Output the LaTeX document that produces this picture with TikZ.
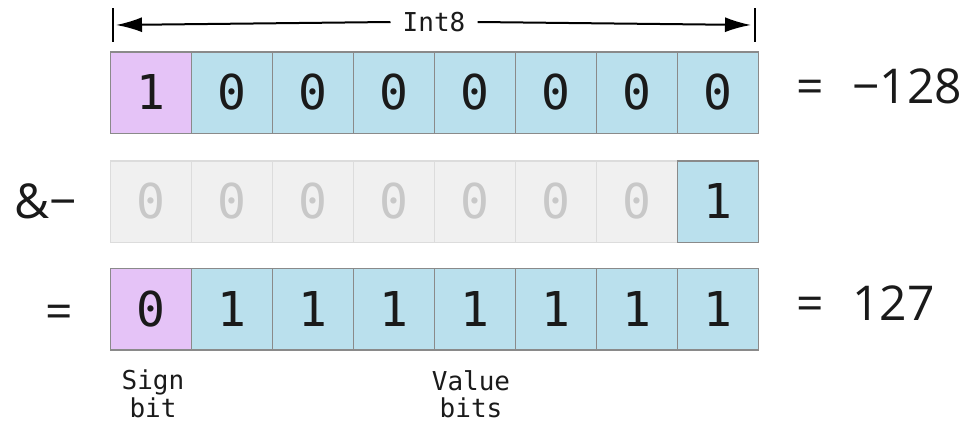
\documentclass[tikz,border=0pt]{standalone}
\usepackage{fontspec}
\setmainfont{Open Sans}
\setmonofont{DejaVu Sans Mono}
\usetikzlibrary{arrows.meta}
\definecolor{signfill}{HTML}{E5C3F7}
\definecolor{valfill}{HTML}{BAE0ED}
\definecolor{cellborder}{HTML}{8A8A8A}
\definecolor{offfill}{HTML}{F0F0F0}
\definecolor{offborder}{HTML}{DCDCDC}
\definecolor{offtext}{HTML}{C8C8C8}
\definecolor{ink}{HTML}{1A1A1A}
\tikzset{
  bitcell/.style={draw=cellborder, line width=1.5pt, minimum width=81pt, minimum height=81.5pt, inner sep=0pt, text=ink, font=\fontsize{48}{50}\selectfont\ttfamily},
  signcell/.style={bitcell, fill=signfill},
  valcell/.style={bitcell, fill=valfill},
  offcell/.style={bitcell, draw=offborder, fill=offfill, text=offtext},
  biglabel/.style={inner sep=0pt, text=ink, font=\fontsize{48}{50}\selectfont},
  smalllabel/.style={inner sep=0pt, text=ink, align=center, font=\fontsize{26}{27.5}\selectfont\ttfamily},
  dimline/.style={line width=2pt, draw=black},
}
\begin{document}
\begin{tikzpicture}[x=1pt,y=-1pt]
\useasboundingbox (0,0) rectangle (969,423);
% row 1
\node[signcell] (a1) at (151,92.5) {1};
\node[valcell] (a2) at (232,92.5) {0};
\node[valcell] (a3) at (313,92.5) {0};
\node[valcell] (a4) at (394,92.5) {0};
\node[valcell] (a5) at (475,92.5) {0};
\node[valcell] (a6) at (556,92.5) {0};
\node[valcell] (a7) at (637,92.5) {0};
\node[valcell] (a8) at (718,92.5) {0};
% row 2
\node[offcell] (b1) at (151,201.5) {0};
\node[offcell] (b2) at (232,201.5) {0};
\node[offcell] (b3) at (313,201.5) {0};
\node[offcell] (b4) at (394,201.5) {0};
\node[offcell] (b5) at (475,201.5) {0};
\node[offcell] (b6) at (556,201.5) {0};
\node[offcell] (b7) at (637,201.5) {0};
\node[valcell] (b8) at (718,201.5) {1};
% row 3
\node[signcell] (c1) at (151,309) {0};
\node[valcell] (c2) at (232,309) {1};
\node[valcell] (c3) at (313,309) {1};
\node[valcell] (c4) at (394,309) {1};
\node[valcell] (c5) at (475,309) {1};
\node[valcell] (c6) at (556,309) {1};
\node[valcell] (c7) at (637,309) {1};
\node[valcell] (c8) at (718,309) {1};
% right labels
\node[biglabel, anchor=base west] (eq1) at (796,103) {=};
\node[biglabel, anchor=base west] (v1) at (852,103) {−128};
\node[biglabel, anchor=base west] (eq3) at (796,320) {=};
\node[biglabel, anchor=base west] (v3) at (852,320) {127};
% left labels
\node[biglabel, anchor=base west] (op) at (14,218) {\&−};
\node[biglabel, anchor=base west] (eqL) at (45,328) {=};
% bottom labels
\node[smalllabel, anchor=north] (sign) at (153,370) {Sign\\bit};
\node[smalllabel, anchor=north] (value) at (471,370) {Value\\bits};
% dimension arrow
\node[smalllabel, fill=white, inner xsep=12pt, inner ysep=2pt] (int8) at (434,22) {Int8};
\coordinate (lt1) at (113,8);
\coordinate (lt2) at (113,42);
\coordinate (rt1) at (755,8);
\coordinate (rt2) at (755,42);
\coordinate (la) at (116,25);
\coordinate (ra) at (751,25);
\draw[dimline] (lt1) -- (lt2);
\draw[dimline] (rt1) -- (rt2);
\draw[dimline, -{Latex[length=26pt,width=15pt]}] (int8.west) -- (la);
\draw[dimline, -{Latex[length=26pt,width=15pt]}] (int8.east) -- (ra);
\end{tikzpicture}
\end{document}
